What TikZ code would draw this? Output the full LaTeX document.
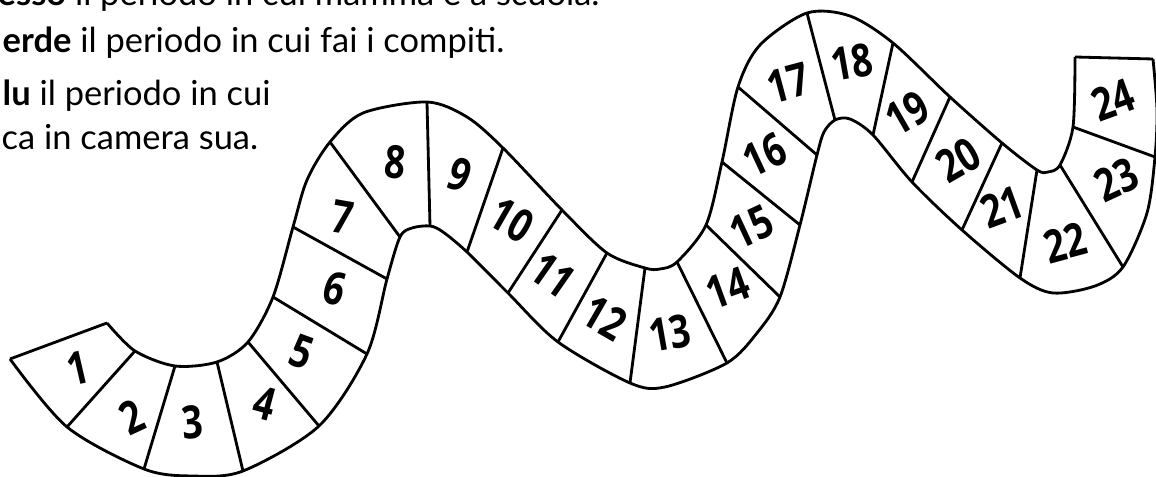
\documentclass[tikz,border=0pt]{standalone}
\usepackage{fontspec}
\setmainfont{Lato}
\newfontfamily\handfont[FakeStretch=0.8]{Open Sans}
\usetikzlibrary{calc}

\begin{document}
\begin{tikzpicture}[x=0.01cm, y=-0.01cm,
    wall/.style={line width=0.8pt, line join=round},
    num/.style={font=\handfont\bfseries\fontsize{13}{13}\selectfont, inner sep=0pt},
    txt/.style={font=\fontsize{9.8}{12}\selectfont, anchor=base west, inner sep=0pt}]
  \useasboundingbox (0,0) rectangle (1156,477);
  % instructions, cut off at the page edge
  \node[txt] (riga1) at (-3,6) {\textbf{esso} il periodo in cui mamma è a scuola.};
  \node[txt] (riga2) at (2,53) {\textbf{erde} il periodo in cui fai i compiti.};
  \node[txt] (riga3) at (2,106) {\textbf{lu} il periodo in cui};
  \node[txt] (riga4) at (1,150) {ca in camera sua.};
  % end points of the walls between the boxes
  \foreach \i/\ux/\uy/\lx/\ly in {0/107/323/10/359, 1/135/351/67/427, 2/175/366/144/469,
      3/217/362/243/471, 4/248/342/319/426, 5/273/297/367/354, 6/293/227/387/279,
      7/330/142/400/237, 8/427/102/430/226, 9/503/148/467/252, 10/562/210/508/293,
      11/607/253/558/342, 12/645/268/630/383, 13/677/262/727/363, 14/706/225/780/297,
      15/722/162/800/225, 16/738/87/817/155, 17/807/13/835/120, 18/893/43/873/135,
      19/950/97/912/182, 20/1002/143/962/230, 21/1037/170/1020/278, 22/1060/165/1123/267,
      23/1073/127/1155/157, 24/1075/57/1153/59}{
    \coordinate (u\i) at (\ux,\uy);
    \coordinate (l\i) at (\lx,\ly);
  }
  % outline of the path
  \draw[wall] plot[smooth] coordinates {(u0) (u1) (u2) (u3) (u4) (u5) (u6) (307,180) (u7)
      (363,113) (u8) (467,117) (u9) (u10) (u11) (u12) (660,269) (u13) (u14) (u15) (u16)
      (760,45) (u17) (850,16) (u18) (u19) (u20) (u21) (1048,172) (u22) (u23) (u24)};
  \draw[wall] plot[smooth] coordinates {(l24) (1157,110) (l23) (1147,213) (l22) (1095,286)
      (1053,293) (l21) (l20) (l19) (l18) (850,119) (l17) (824,132) (l16) (l15) (l14)
      (757,333) (l13) (665,387) (l12) (l11) (l10) (l9) (443,232) (l8) (412,228) (l7)
      (l6) (l5) (l4) (l3) (192,476) (l2) (l1) (l0)};
  \draw[wall] (l0) -- (u0);
  \draw[wall] (u24) -- (l24);
  \foreach \i in {1,...,23}{
    \draw[wall] (u\i) -- (l\i);
  }
  % numbers of the boxes
  \foreach \n/\x/\y/\r in {1/78/368/13, 2/132/417/25, 3/192/422/5, 4/265/403/-15,
      5/302/352/-20, 6/335/288/-15, 7/343/217/-10, 8/395/162/-5, 9/460/175/-20,
      10/512/220/-30, 11/553/275/-35, 12/605/318/-30, 13/670/333/10, 14/728/288/20,
      15/752/227/25, 16/765/155/25, 17/788/83/15, 18/852/62/10, 19/907/113/30,
      20/958/160/30, 21/1002/207/20, 22/1065/243/15, 23/1117/180/25, 24/1113/100/20}{
    \node[num, rotate=\r] (n\n) at (\x,\y) {\n};
  }
\end{tikzpicture}
\end{document}
